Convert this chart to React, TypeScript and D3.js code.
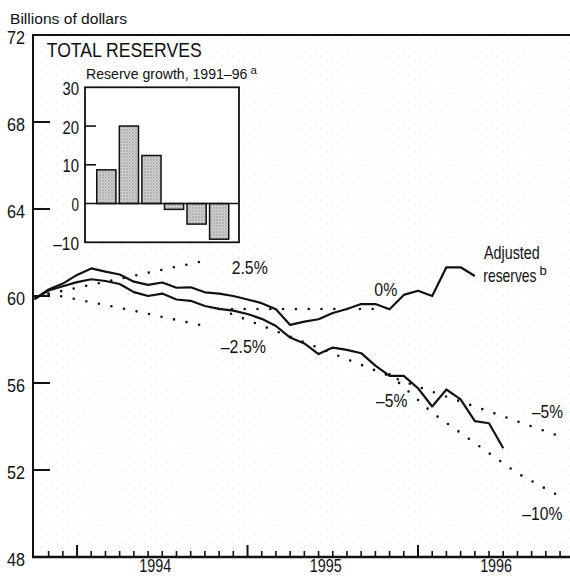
import React from "react";
import * as d3 from "d3";

// ---------- data ----------
const months: string[] = [
  "1993-10", "1993-11", "1993-12",
  "1994-01", "1994-02", "1994-03", "1994-04", "1994-05", "1994-06",
  "1994-07", "1994-08", "1994-09", "1994-10", "1994-11", "1994-12",
  "1995-01", "1995-02", "1995-03", "1995-04", "1995-05", "1995-06",
  "1995-07", "1995-08", "1995-09", "1995-10", "1995-11", "1995-12",
  "1996-01", "1996-02", "1996-03", "1996-04", "1996-05", "1996-06",
  "1996-07",
];

// Total reserves, billions of dollars (Oct 1993 – Jul 1996)
const totalReserves: number[] = [
  59.86, 60.25, 60.45, 60.64, 60.77, 60.69, 60.55, 60.18, 60.0, 60.11,
  59.84, 59.78, 59.54, 59.41, 59.33, 59.17, 58.95, 58.62, 58.09, 57.82,
  57.33, 57.63, 57.52, 57.37, 56.8, 56.33, 56.33, 55.76, 54.92, 55.7,
  55.25, 54.25, 54.15, 53.0,
];

// Adjusted reserves, billions of dollars (Oct 1993 – May 1996)
const adjustedReserves: number[] = [
  59.86, 60.3, 60.57, 60.97, 61.27, 61.12, 60.99, 60.66, 60.51, 60.62,
  60.38, 60.4, 60.17, 60.11, 60.0, 59.84, 59.67, 59.39, 58.67, 58.82,
  58.93, 59.22, 59.4, 59.63, 59.63, 59.39, 60.05, 60.24, 60.0, 61.32,
  61.32, 60.92,
];

// Constant-growth reference paths: [month, value]
const proj25: [string, number][] = [["1993-11", 60.1], ["1994-05", 60.93], ["1994-10", 61.62]];
const projM25: [string, number][] = [["1993-11", 60.1], ["1994-05", 59.32], ["1994-10", 58.62]];
const proj0: [string, number][] = [["1994-11", 59.4], ["1995-10", 59.4]];
const projM5: [string, number][] = [["1994-11", 59.4], ["1995-04", 58.13], ["1995-12", 56.06], ["1996-11", 53.55]];
const projM10: [string, number][] = [["1995-11", 56.4], ["1996-02", 54.63], ["1996-08", 51.85], ["1996-11", 50.78]];

// Inset: reserve growth, 1991–96 (percent)
const growthYears: string[] = ["1991", "1992", "1993", "1994", "1995", "1996"];
const growthValues: number[] = [8.7, 20.0, 12.4, -1.5, -5.3, -9.2];

const yTickValues: number[] = [48, 52, 56, 60, 64, 68, 72];
const insetTickValues: number[] = [-10, 0, 10, 20, 30];
const yearLabels: string[] = ["1994", "1995", "1996"];

// ---------- helpers ----------
const monthIndex = (s: string) => {
  const [yy, mm] = s.split("-").map(Number);
  return (yy - 1994) * 12 + (mm - 1);
};

const FONT = "'Liberation Sans Narrow','Arial Narrow','Liberation Sans',Arial,sans-serif";

type TP = {
  x: number; y: number; len?: number; size: number; anchor?: "start" | "end" | "middle";
  children: React.ReactNode;
};
const T = ({ x, y, len, size, anchor = "start", children }: TP) => (
  <text
    x={x}
    y={y}
    fontSize={size}
    fontFamily={FONT}
    textAnchor={anchor}
    fill="#111"
    {...(len ? { textLength: len, lengthAdjust: "spacingAndGlyphs" } : {})}
  >
    {children}
  </text>
);

// horizontally condensed text (scaled group) for labels followed by a superscript
const CT = ({ x, y, sx, size, children }: { x: number; y: number; sx: number; size: number; children: React.ReactNode }) => (
  <g transform={`translate(${x},${y}) scale(${sx},1)`}>
    <text x={0} y={0} fontSize={size} fontFamily={FONT} fill="#111">
      {children}
    </text>
  </g>
);

export default function App() {
  const x = d3.scaleLinear().domain([-3.1, 34.7]).range([33, 570]);
  const y = d3.scaleLinear().domain([48, 72]).range([557, 35]);

  const line = d3
    .line<[number, number]>()
    .x((d) => x(d[0]))
    .y((d) => y(d[1]));

  const totalPts: [number, number][] = totalReserves.map((v, i) => [monthIndex(months[i]), v]);
  const adjPts: [number, number][] = adjustedReserves.map((v, i) => [monthIndex(months[i]), v]);
  const toPts = (p: [string, number][]): [number, number][] => p.map(([m, v]) => [monthIndex(m), v]);
  const projections = [proj25, projM25, proj0, projM5, projM10].map(toPts);

  const monthTicks = d3.range(monthIndex("1993-11"), monthIndex("1996-11") + 1);

  // inset scales
  const ix = d3.scaleBand<string>().domain(growthYears).range([94.5, 231]).paddingInner(0.15).paddingOuter(0.1);
  const iy = d3.scaleLinear().domain([-10, 30]).range([242.3, 87.3]);
  const frameL = 85, frameR = 239;

  return (
    <svg
      width={570}
      height={584}
      style={{ position: "absolute", left: 0, top: 0, background: "#fff" }}
    >
      <defs>
        <pattern id="bgstip" width="11" height="9" patternUnits="userSpaceOnUse">
          <circle cx="2" cy="3" r="0.45" fill="#a8a8a8" />
          <circle cx="8" cy="7" r="0.4" fill="#b5b5b5" />
        </pattern>
        <pattern id="barstip" width="3" height="3" patternUnits="userSpaceOnUse">
          <rect width="3" height="3" fill="#d2d2d2" />
          <circle cx="1" cy="1" r="0.7" fill="#7a7a7a" />
          <circle cx="2.5" cy="2.5" r="0.4" fill="#9a9a9a" />
        </pattern>
      </defs>

      {/* plot background stipple */}
      <rect x={33} y={35} width={537} height={522} fill="url(#bgstip)" />

      {/* frame */}
      <line x1={33} x2={570} y1={y(72)} y2={y(72)} stroke="#111" strokeWidth={2} />
      <line x1={33} x2={33} y1={y(72) - 1} y2={y(48) + 1} stroke="#111" strokeWidth={2} />
      <line x1={32} x2={570} y1={y(48)} y2={y(48)} stroke="#111" strokeWidth={2.5} />

      {/* y ticks and labels */}
      {yTickValues.map((v) => (
        <g key={v}>
          {v !== 48 && v !== 72 && (
            <line x1={33} x2={50} y1={y(v)} y2={y(v)} stroke="#111" strokeWidth={2} />
          )}
          <T x={25} y={y(v) + 8.5} size={19} anchor="end" len={18}>
            {v}
          </T>
        </g>
      ))}

      {/* month ticks on x axis */}
      {monthTicks.map((m) => (
        <line
          key={m}
          x1={x(m)}
          x2={x(m)}
          y1={y(48)}
          y2={y(48) - (m % 12 === 0 ? 12 : 6)}
          stroke="#111"
          strokeWidth={m % 12 === 0 ? 2 : 1.6}
        />
      ))}
      {yearLabels.map((yr, i) => (
        <T key={yr} x={x(12 * i + 5.5)} y={571.5} size={18} anchor="middle" len={32}>
          {yr}
        </T>
      ))}

      {/* axis title */}
      <T x={10} y={24} size={15.5} len={117}>Billions of dollars</T>

      {/* projection dotted lines */}
      {projections.map((p, i) => (
        <path
          key={i}
          d={line(p) || ""}
          fill="none"
          stroke="#111"
          strokeWidth={2.6}
          strokeLinecap="round"
          strokeDasharray="0 12.8"
        />
      ))}

      {/* data lines */}
      <path d={line(totalPts) || ""} fill="none" stroke="#111" strokeWidth={2.2} strokeLinejoin="round" />
      <path d={line(adjPts) || ""} fill="none" stroke="#111" strokeWidth={2.2} strokeLinejoin="round" />

      {/* projection labels */}
      <T x={231.7} y={274} size={19} len={36}>2.5%</T>
      <T x={220.7} y={352.5} size={19} len={45.3}>–2.5%</T>
      <T x={374.3} y={296} size={19} len={23}>0%</T>
      <T x={376} y={406.5} size={19} len={31.3}>–5%</T>
      <T x={532} y={418.3} size={19} len={31}>–5%</T>
      <T x={522.3} y={520} size={19} len={40}>–10%</T>
      <CT x={484} y={259} sx={0.755} size={19}>Adjusted</CT>
      <CT x={483.3} y={281.5} sx={0.73} size={19}>reserves</CT>
      <text x={539.5} y={275} fontSize={13} fontFamily={FONT} fill="#111">b</text>

      {/* title */}
      <T x={46.7} y={57.3} size={19.5} len={155}>TOTAL RESERVES</T>

      {/* inset */}
      <CT x={86} y={79} sx={0.94} size={15}>Reserve growth, 1991–96</CT>
      <text x={250.5} y={74} fontSize={11.5} fontFamily={FONT} fill="#111">a</text>
      <rect x={frameL} y={iy(30)} width={frameR - frameL} height={iy(-10) - iy(30)} fill="#fff" />
      {growthValues.map((v, i) => (
        <rect
          key={growthYears[i]}
          x={ix(growthYears[i])}
          width={ix.bandwidth()}
          y={iy(Math.max(0, v))}
          height={Math.abs(iy(v) - iy(0))}
          fill="url(#barstip)"
          stroke="#111"
          strokeWidth={1.5}
        />
      ))}
      <line x1={frameL} x2={frameR} y1={iy(0)} y2={iy(0)} stroke="#111" strokeWidth={1.6} />
      {[10, 20].map((v) => (
        <line key={v} x1={frameL} x2={frameL + 11} y1={iy(v)} y2={iy(v)} stroke="#111" strokeWidth={1.6} />
      ))}
      <rect
        x={frameL}
        y={iy(30)}
        width={frameR - frameL}
        height={iy(-10) - iy(30)}
        fill="none"
        stroke="#111"
        strokeWidth={1.8}
      />
      {insetTickValues.map((v) => (
        <T
          key={v}
          x={79}
          y={iy(v) + 7.5}
          size={19}
          anchor="end"
          len={v === 0 ? 7.5 : v < 0 ? 25.7 : 16.5}
        >
          {v < 0 ? `–${Math.abs(v)}` : v}
        </T>
      ))}
    </svg>
  );
}
